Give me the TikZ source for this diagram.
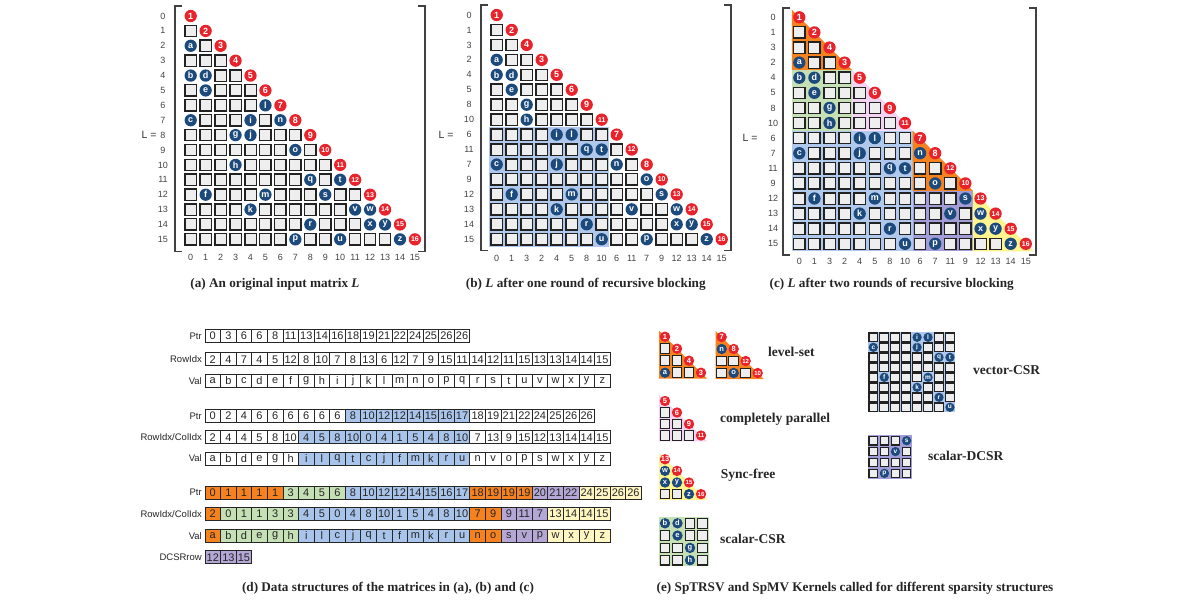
\documentclass[tikz,border=0pt]{standalone}
\usepackage{fontspec}
\setmainfont{Liberation Serif}
\setsansfont{Liberation Sans}
\definecolor{navy}{HTML}{1C4A7C}
\definecolor{redc}{HTML}{E8232B}
\definecolor{boxfill}{HTML}{EEEEEE}
\definecolor{boxline}{HTML}{222222}
\definecolor{labgray}{HTML}{444444}
\definecolor{orgC}{HTML}{F5821F}
\definecolor{grnC}{HTML}{C5E0B4}
\definecolor{pnkC}{HTML}{F3D2F2}
\definecolor{bluC}{HTML}{AFC8EC}
\definecolor{purC}{HTML}{A29CD7}
\definecolor{yelC}{HTML}{FFF58F}
\definecolor{W}{HTML}{FFFFFF}
\definecolor{O}{HTML}{F5821F}
\definecolor{G}{HTML}{C5E0B4}
\definecolor{B}{HTML}{A9C4EB}
\definecolor{P}{HTML}{B4A7D6}
\definecolor{Y}{HTML}{FFF6C2}
\def\BS{11.3pt}\def\CS{12.3pt}\def\BL{1.3pt}
\def\CF{\sffamily\bfseries\fontsize{9}{9}\selectfont}
\def\RF{\sffamily\bfseries\fontsize{9}{9}\selectfont}
\def\RFS{\fontsize{7}{7}\selectfont}
\tikzset{
 cellbox/.style={draw=boxline, fill=boxfill, line width=\BL, minimum size=\BS, inner sep=0pt, outer sep=0pt},
 bcirc/.style={circle, fill=navy, text=white, minimum size=\CS, inner sep=0pt, font=\CF},
 rcirc/.style={circle, fill=redc, text=white, minimum size=\CS, inner sep=0pt, font=\RF},
 rlab/.style={font=\sffamily\fontsize{9}{9}\selectfont, text=labgray, inner sep=0pt},
 Lab/.style={font=\sffamily\fontsize{10.5}{10.5}\selectfont, text=black!80, inner sep=0pt},
 brk/.style={draw=black!75, line width=1.1pt},
 dcell/.style={draw=black!85, line width=0.8pt, minimum width=15.58pt, minimum height=13pt, inner sep=0pt, outer sep=0pt, font=\sffamily\fontsize{11}{11}\selectfont, text=black!85},
 dlab/.style={anchor=east, font=\sffamily\fontsize{9.5}{9.5}\selectfont, text=black!85, inner sep=0pt},
 captxt/.style={font=\bfseries\fontsize{13.2}{13.2}\selectfont, text=black!85, inner sep=0pt},
 elab/.style={anchor=west, font=\bfseries\fontsize{13.5}{13.5}\selectfont, text=black!85, inner sep=0pt},
}
\def\setm#1#2#3#4{\def\MX{#1}\def\MY{#2}\def\MDX{#3}\def\MDY{#4}}
\newcommand\mfirst[2]{\node[rcirc] (#1-0-0) at (\MX,\MY) {#2};}
\newcommand\mrow[4]{%
  \foreach \e [count=\k from 0] in {#3} {%
    \if\e-\relax\node[cellbox] (#1-#2-\k) at ({\MX+\k*\MDX},{\MY+#2*\MDY}) {};%
    \else\node[bcirc] (#1-#2-\k) at ({\MX+\k*\MDX},{\MY+#2*\MDY}) {\e};\fi}%
  \node[rcirc] (#1-#2-#2) at ({\MX+#2*\MDX},{\MY+#2*\MDY}) {\ifnum#4>9 \RFS\fi #4};}
\newcommand\frow[3]{%
  \foreach \e [count=\k from 0] in {#3} {%
    \if\e-\relax\node[cellbox] (#1-#2-\k) at ({\MX+\k*\MDX},{\MY+#2*\MDY}) {};%
    \else\node[bcirc] (#1-#2-\k) at ({\MX+\k*\MDX},{\MY+#2*\MDY}) {\e};\fi}}
\newcommand\brect[5]{\fill[#1] ({\MX+(#4-0.5)*\MDX},{\MY+(#2-0.5)*\MDY}) rectangle ({\MX+(#5+0.5)*\MDX},{\MY+(#3+0.5)*\MDY});}
\newcommand\btri[3]{\fill[#1] ({\MX+(#2-0.5)*\MDX},{\MY+(#2-0.5)*\MDY}) -- ({\MX+(#2-0.5)*\MDX},{\MY+(#3+0.5)*\MDY}) -- ({\MX+(#3+0.5)*\MDX},{\MY+(#3+0.5)*\MDY}) -- cycle;}
\newcommand\rowlabels[3]{\foreach \l [count=\k from 0] in {#3} {\node[rlab] (#1-rl-\k) at (#2,{\MY+\k*\MDY}) {\l};}}
\newcommand\collabels[3]{\foreach \l [count=\k from 0] in {#3} {\node[rlab] (#1-cl-\k) at ({\MX+\k*\MDX},#2) {\l};}}
\newcommand\arrw[3]{\foreach \vv [count=\k from 0] in {#3} {\node[dcell, fill=white] (#1-\k) at ({205+(\k+0.5)*15.58},#2) {\vv};}}
\newcommand\arr[3]{\foreach \vv/\cl [count=\k from 0] in {#3} {\node[dcell, fill=\cl] (#1-\k) at ({205+(\k+0.5)*15.58},#2) {\vv};}}
\begin{document}
\begin{tikzpicture}[x=1pt,y=-1pt]
\fill[white] (0,0) rectangle (1200,600);
\useasboundingbox (0,0) rectangle (1200,600);

% ---------------- (a)
\setm{190.7}{16}{14.95}{14.89}
\draw[brk] (182,6) -- (175,6) -- (175,251.7) -- (182,251.7);
\draw[brk] (418,6) -- (425,6) -- (425,251.7) -- (418,251.7);
\rowlabels{a}{163}{0,1,2,3,4,5,6,7,8,9,10,11,12,13,14,15}
\collabels{a}{257.5}{0,1,2,3,4,5,6,7,8,9,10,11,12,13,14,15}
\node[Lab] (aL) at (149,135) {L =};
\mfirst{a}{1}
\mrow{a}{1}{-}{2}
\mrow{a}{2}{a,-}{3}
\mrow{a}{3}{-,-,-}{4}
\mrow{a}{4}{b,d,-,-}{5}
\mrow{a}{5}{-,e,-,-,-}{6}
\mrow{a}{6}{-,-,-,-,-,l}{7}
\mrow{a}{7}{c,-,-,-,i,-,n}{8}
\mrow{a}{8}{-,-,-,g,j,-,-,-}{9}
\mrow{a}{9}{-,-,-,-,-,-,-,o,-}{10}
\mrow{a}{10}{-,-,-,h,-,-,-,-,-,-}{11}
\mrow{a}{11}{-,-,-,-,-,-,-,-,q,-,t}{12}
\mrow{a}{12}{-,f,-,-,-,m,-,-,-,s,-,-}{13}
\mrow{a}{13}{-,-,-,-,k,-,-,-,-,-,-,v,w}{14}
\mrow{a}{14}{-,-,-,-,-,-,-,-,r,-,-,-,x,y}{15}
\mrow{a}{15}{-,-,-,-,-,-,-,p,-,-,u,-,-,-,z}{16}
\node[captxt] (capa) at (275,284) {(a) An original input matrix \textit{L}};

% ---------------- (b)
\setm{496.7}{15}{15}{14.95}
\brect{bluC}{8}{15}{0}{7}
\draw[brk] (488,5) -- (481,5) -- (481,250.7) -- (488,250.7);
\draw[brk] (724,5) -- (731,5) -- (731,250.7) -- (724,250.7);
\rowlabels{b}{469}{0,1,3,2,4,5,8,10,6,11,7,9,12,13,14,15}
\collabels{b}{258}{0,1,3,2,4,5,8,10,6,11,7,9,12,13,14,15}
\node[Lab] (bL) at (446,135) {L =};
\mfirst{b}{1}
\mrow{b}{1}{-}{2}
\mrow{b}{2}{-,-}{4}
\mrow{b}{3}{a,-,-}{3}
\mrow{b}{4}{b,d,-,-}{5}
\mrow{b}{5}{-,e,-,-,-}{6}
\mrow{b}{6}{-,-,g,-,-,-}{9}
\mrow{b}{7}{-,-,h,-,-,-,-}{11}
\mrow{b}{8}{-,-,-,-,i,l,-,-}{7}
\mrow{b}{9}{-,-,-,-,-,-,q,t,-}{12}
\mrow{b}{10}{c,-,-,-,j,-,-,-,n,-}{8}
\mrow{b}{11}{-,-,-,-,-,-,-,-,-,-,o}{10}
\mrow{b}{12}{-,f,-,-,-,m,-,-,-,-,-,s}{13}
\mrow{b}{13}{-,-,-,-,k,-,-,-,-,v,-,-,w}{14}
\mrow{b}{14}{-,-,-,-,-,-,r,-,-,-,-,-,x,y}{15}
\mrow{b}{15}{-,-,-,-,-,-,-,u,-,-,p,-,-,-,z}{16}
\node[captxt] (capb) at (585.8,284) {(b) \textit{L} after one round of recursive blocking};

% ---------------- (c)
\setm{799.3}{17.3}{15.1}{15.1}
\btri{orgC}{0}{3}
\brect{grnC}{4}{7}{0}{3}
\btri{pnkC}{4}{7}
\brect{bluC}{8}{15}{0}{7}
\btri{orgC}{8}{11}
\brect{purC}{12}{15}{8}{11}
\btri{yelC}{12}{15}
\draw[brk] (790,8) -- (783,8) -- (783,255) -- (790,255);
\draw[brk] (1029,8) -- (1036,8) -- (1036,255) -- (1029,255);
\rowlabels{c}{773}{0,1,3,2,4,5,8,10,6,7,11,9,12,13,14,15}
\collabels{c}{261.7}{0,1,3,2,4,5,8,10,6,7,11,9,12,13,14,15}
\node[Lab] (cL) at (750,138) {L =};
\mfirst{c}{1}
\mrow{c}{1}{-}{2}
\mrow{c}{2}{-,-}{4}
\mrow{c}{3}{a,-,-}{3}
\mrow{c}{4}{b,d,-,-}{5}
\mrow{c}{5}{-,e,-,-,-}{6}
\mrow{c}{6}{-,-,g,-,-,-}{9}
\mrow{c}{7}{-,-,h,-,-,-,-}{11}
\mrow{c}{8}{-,-,-,-,i,l,-,-}{7}
\mrow{c}{9}{c,-,-,-,j,-,-,-,n}{8}
\mrow{c}{10}{-,-,-,-,-,-,q,t,-,-}{12}
\mrow{c}{11}{-,-,-,-,-,-,-,-,-,o,-}{10}
\mrow{c}{12}{-,f,-,-,-,m,-,-,-,-,-,s}{13}
\mrow{c}{13}{-,-,-,-,k,-,-,-,-,-,v,-,w}{14}
\mrow{c}{14}{-,-,-,-,-,-,r,-,-,-,-,-,x,y}{15}
\mrow{c}{15}{-,-,-,-,-,-,-,u,-,p,-,-,-,-,z}{16}
\node[captxt] (capc) at (891.7,284) {(c) \textit{L} after two rounds of recursive blocking};

% ---------------- (d)
\node[dlab] (d1pl) at (202,336) {Ptr};
\arrw{d1p}{336}{0,3,6,6,8,11,13,14,16,18,19,21,22,24,25,26,26}
\node[dlab] (d1rl) at (202,359.3) {RowIdx};
\arrw{d1r}{359.3}{2,4,7,4,5,12,8,10,7,8,13,6,12,7,9,15,11,14,12,11,15,13,13,14,14,15}
\node[dlab] (d1vl) at (202,380.7) {Val};
\arrw{d1v}{380.7}{a,b,c,d,e,f,g,h,i,j,k,l,m,n,o,p,q,r,s,t,u,v,w,x,y,z}

\node[dlab] (d2pl) at (202,416) {Ptr};
\arr{d2p}{416}{0/W,2/W,4/W,6/W,6/W,6/W,6/W,6/W,6/W,8/B,10/B,12/B,12/B,14/B,15/B,16/B,17/B,18/W,19/W,21/W,22/W,24/W,25/W,26/W,26/W}
\node[dlab] (d2rl) at (202,437.3) {RowIdx/ColIdx};
\arr{d2r}{437.3}{2/W,4/W,4/W,5/W,8/W,10/W,4/B,5/B,8/B,10/B,0/B,4/B,1/B,5/B,4/B,8/B,10/B,7/W,13/W,9/W,15/W,12/W,13/W,14/W,14/W,15/W}
\node[dlab] (d2vl) at (202,458.5) {Val};
\arr{d2v}{458.5}{a/W,b/W,d/W,e/W,g/W,h/W,i/B,l/B,q/B,t/B,c/B,j/B,f/B,m/B,k/B,r/B,u/B,n/W,v/W,o/W,p/W,s/W,w/W,x/W,y/W,z/W}

\node[dlab] (d3pl) at (202,492.7) {Ptr};
\arr{d3p}{492.7}{0/O,1/O,1/O,1/O,1/O,3/G,4/G,5/G,6/G,8/B,10/B,12/B,12/B,14/B,15/B,16/B,17/B,18/O,19/O,19/O,19/O,20/P,21/P,22/P,24/Y,25/Y,26/Y,26/Y}
\node[dlab] (d3rl) at (202,514) {RowIdx/ColIdx};
\arr{d3r}{514}{2/O,0/G,1/G,1/G,3/G,3/G,4/B,5/B,0/B,4/B,8/B,10/B,1/B,5/B,4/B,8/B,10/B,7/O,9/O,9/P,11/P,7/P,13/Y,14/Y,14/Y,15/Y}
\node[dlab] (d3vl) at (202,536) {Val};
\arr{d3v}{536}{a/O,b/G,d/G,e/G,g/G,h/G,i/B,l/B,c/B,j/B,q/B,t/B,f/B,m/B,k/B,r/B,u/B,n/O,o/O,s/P,v/P,p/P,w/Y,x/Y,y/Y,z/Y}
\node[dlab] (d3dl) at (202,557.3) {DCSRrow};
\arr{d3d}{557.3}{12/P,13/P,15/P}
\node[captxt] (capd) at (388,588.3) {(d) Data structures of the matrices in (a), (b) and (c)};

% ---------------- (e)
\def\BS{9.6pt}\def\CS{10.4pt}\def\BL{1.15pt}
\def\CF{\sffamily\bfseries\fontsize{7.5}{7.5}\selectfont}
\def\RF{\sffamily\bfseries\fontsize{7.5}{7.5}\selectfont}
\def\RFS{\fontsize{6}{6}\selectfont}
\setm{665}{336.7}{12}{12}
\btri{orgC}{0}{3}
\mfirst{e1}{1}
\mrow{e1}{1}{-}{2}
\mrow{e1}{2}{-,-}{4}
\mrow{e1}{3}{a,-,-}{3}
\setm{721.7}{337}{12}{12}
\btri{orgC}{0}{3}
\mfirst{e2}{7}
\mrow{e2}{1}{n}{8}
\mrow{e2}{2}{-,-}{12}
\mrow{e2}{3}{-,o,-}{10}
\node[elab] (lvl) at (768,351.7) {level-set};

\setm{665}{401}{12}{11.5}
\btri{pnkC}{0}{3}
\mfirst{e3}{5}
\mrow{e3}{1}{-}{6}
\mrow{e3}{2}{-,-}{9}
\mrow{e3}{3}{-,-,-}{11}
\node[elab] (cpl) at (720,419) {completely parallel};

\setm{665}{459.3}{12}{11.6}
\btri{yelC}{0}{3}
\mfirst{e4}{13}
\mrow{e4}{1}{w}{14}
\mrow{e4}{2}{x,y}{15}
\mrow{e4}{3}{-,-,z}{16}
\node[elab] (syn) at (720.7,475) {Sync-free};

\setm{665}{523.3}{12.5}{12.3}
\brect{grnC}{0}{3}{0}{3}
\frow{e5}{0}{b,d,-,-}
\frow{e5}{1}{-,e,-,-}
\frow{e5}{2}{-,-,g,-}
\frow{e5}{3}{-,-,h,-}
\node[elab] (scsr) at (720,539.3) {scalar-CSR};

\def\BS{8.6pt}\def\CS{9.3pt}\def\BL{1.05pt}
\def\CF{\sffamily\bfseries\fontsize{6.5}{6.5}\selectfont}
\setm{873.3}{337.3}{10.95}{10}
\brect{bluC}{0}{7}{0}{7}
\frow{e6}{0}{-,-,-,-,i,l,-,-}
\frow{e6}{1}{c,-,-,-,j,-,-,-}
\frow{e6}{2}{-,-,-,-,-,-,q,t}
\frow{e6}{3}{-,-,-,-,-,-,-,-}
\frow{e6}{4}{-,f,-,-,-,m,-,-}
\frow{e6}{5}{-,-,-,-,k,-,-,-}
\frow{e6}{6}{-,-,-,-,-,-,r,-}
\frow{e6}{7}{-,-,-,-,-,-,-,u}
\node[elab] (vcsr) at (973,370) {vector-CSR};

\setm{873.3}{440.7}{11.1}{10.9}
\brect{purC}{0}{3}{0}{3}
\frow{e7}{0}{-,-,-,s}
\frow{e7}{1}{-,-,v,-}
\frow{e7}{2}{-,-,-,-}
\frow{e7}{3}{-,p,-,-}
\node[elab] (sdcsr) at (928,456) {scalar-DCSR};

\node[captxt] (cape) at (855,588.3) {(e) SpTRSV and SpMV Kernels called for different sparsity structures};
\end{tikzpicture}
\end{document}
